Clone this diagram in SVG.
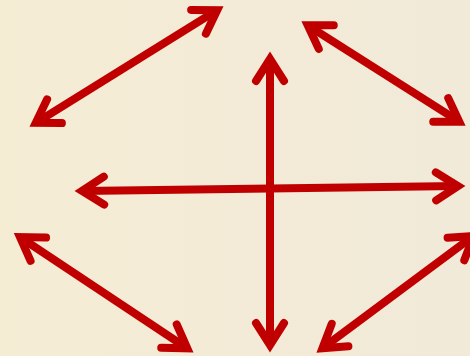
<svg xmlns="http://www.w3.org/2000/svg" width="470" height="356" viewBox="0 0 470 356">
  <defs>
    <linearGradient id="bg" x1="0" y1="0" x2="1" y2="0">
      <stop offset="0" stop-color="#f5ecd4"/>
      <stop offset="1" stop-color="#f1ead9"/>
    </linearGradient>
    <marker id="head" markerUnits="userSpaceOnUse" viewBox="-34 -22 44 44" refX="0" refY="0" markerWidth="44" markerHeight="44" orient="auto-start-reverse" overflow="visible">
      <path d="M -22,-14 L 0,0 L -22,14" fill="none" stroke="#c00000" stroke-width="8" stroke-linecap="round" stroke-linejoin="miter" stroke-miterlimit="10"/>
    </marker>
  </defs>
  <style>
    .arrow { fill: none; stroke: #c00000; stroke-width: 8; stroke-linecap: butt; marker-start: url(#head); marker-end: url(#head); }
  </style>
  <rect x="0" y="0" width="470" height="356" fill="url(#bg)"/>
  <g id="connectors">
    <line id="arrow-top-left" class="arrow" x1="35.8" y1="122.8" x2="217.2" y2="10.2"/>
    <line id="arrow-top-right" class="arrow" x1="307.7" y1="25.3" x2="459.3" y2="121.7"/>
    <line id="arrow-bottom-left" class="arrow" x1="20" y1="237.1" x2="187.3" y2="348.3"/>
    <line id="arrow-bottom-right" class="arrow" x1="322.4" y1="348.2" x2="473.6" y2="235.9"/>
    <line id="arrow-horizontal" class="arrow" x1="82" y1="190.9" x2="458" y2="186.1"/>
    <line id="arrow-vertical" class="arrow" x1="270" y1="59" x2="270" y2="345"/>
  </g>
</svg>
